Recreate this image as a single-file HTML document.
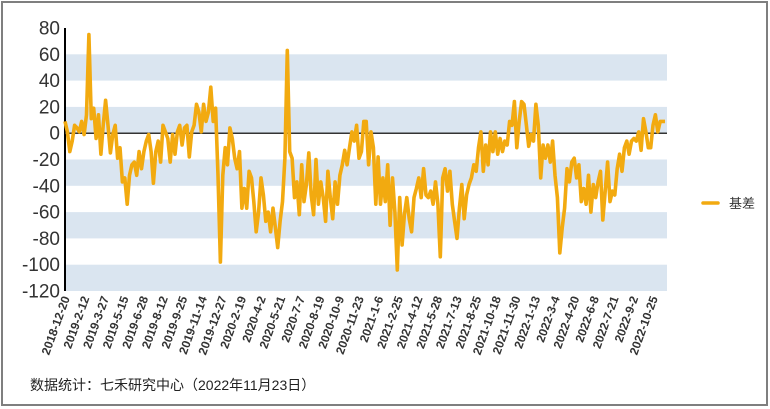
<!DOCTYPE html>
<html><head><meta charset="utf-8"><style>
html,body{margin:0;padding:0;background:#fff;}
svg{display:block;font-family:"Liberation Sans","Noto Sans CJK SC",sans-serif;}
</style></head><body>
<svg id="chart" width="770" height="409" viewBox="0 0 770 409">
<rect x="2" y="2" width="765" height="403" fill="#fff" stroke="#7f7f7f" stroke-width="2"/>
<g id="bands"></g>
<g id="yticks"></g>
<g id="xticks"></g>
<g id="series"></g>
<g>
<line x1="703" y1="203" x2="718" y2="203" stroke="#F2AA10" stroke-width="3.5" stroke-linecap="round"/>
<text x="729" y="208" font-size="13" fill="#333">基差</text>
</g>
<text x="30" y="390" font-size="14" fill="#222">数据统计：七禾研究中心（2022年11月23日）</text>
</svg>
<script>
const yTicks=[80,60,40,20,0,-20,-40,-60,-80,-100,-120];
const bandRanges=[[40,60],[0,20],[-40,-20],[-80,-60],[-120,-100]];
const dateLabels=["2018-12-20","2019-2-12","2019-3-27","2019-5-15","2019-6-28","2019-8-12","2019-9-25","2019-11-14","2019-12-27","2020-2-19","2020-4-2","2020-5-21","2020-7-7","2020-8-19","2020-10-9","2020-11-23","2021-1-6","2021-2-25","2021-4-12","2021-5-28","2021-7-13","2021-8-25","2021-10-18","2021-11-30","2022-1-13","2022-3-4","2022-4-20","2022-6-8","2022-7-21","2022-9-2","2022-10-25"];
const basisValues=[9,1,-14,-6,6,4,1,9,-1,14,75,11,19,-4,14,-16,6,25,6,-15,-1,6,-19,-11,-37,-34,-54,-32,-24,-22,-32,-14,-27,-14,-6,-1,-14,-38,-14,-6,-22,6,1,-4,-22,-1,-16,1,6,-9,4,6,-18,1,6,22,16,
1,22,9,16,35,9,19,-32,-98,-32,-11,-24,4,-4,-19,-27,-14,-57,-42,-57,-29,-34,-52,-75,-60,-34,-47,-67,-60,-75,-57,-72,-87,-67,-52,-19,63,-14,-19,-49,-37,-62,-24,-52,-39,-15,-47,-62,-20,-54,-37,-49,-67,-29,-49,-65,-37,-54,-32,-24,-13,-24,-11,1,-6,6,-19,-14,9,
9,-24,1,-11,-54,-18,-54,-34,-52,-24,-70,-34,-60,-104,-49,-85,-62,-49,-65,-75,-49,-42,-34,-49,-27,-47,-49,-44,-54,-37,-54,-94,-34,-27,-44,-29,-54,-67,-80,-57,-39,-65,-47,-39,-34,-24,-29,-11,1,-29,-9,-24,1,-14,1,-16,-4,-14,-6,-9,9,6,24,
-11,9,24,22,6,-10,-1,-6,22,6,-34,-9,-19,-9,-22,-6,-32,-49,-91,-72,-57,-27,-37,-22,-19,-34,-24,-52,-42,-54,-32,-60,-39,-49,-37,-29,-66,-44,-22,-52,-44,-47,-27,-16,-29,-11,-6,-16,-6,-4,-6,1,-13,11,1,-11,-11,6,14,1,9,9,9];
const NS="http://www.w3.org/2000/svg";
const X0=65,X1=665,PR=667,YT=28,YB=291,VMAX=80,VMIN=-120;
function yScale(v){return YB-(v-VMIN)/(VMAX-VMIN)*(YB-YT);}
function xScale(i,n){return X0+i*(X1-X0)/(n-1);}
function mk(tag,attrs,parent){const e=document.createElementNS(NS,tag);for(const k in attrs)e.setAttribute(k,attrs[k]);parent.appendChild(e);return e;}
const bands=document.getElementById('bands');
bandRanges.forEach(b=>{
 const r=mk('rect',{x:X0,y:yScale(b[1]),width:PR-X0,height:yScale(b[0])-yScale(b[1]),fill:'#DAE5F0'},bands);
 
 
});
const yg=document.getElementById('yticks');
yTicks.forEach(v=>{
 const t=mk('text',{x:60,y:yScale(v)+6.5,'text-anchor':'end','font-size':'19',fill:'#333'},yg);
 t.textContent=v;
 
 
});
const ax=mk('line',{x1:X0,y1:YT,x2:X0,y2:YB,stroke:'#000','stroke-width':2},yg);


const zl=mk('line',{x1:X0,y1:yScale(0),x2:PR,y2:yScale(0),stroke:'#333','stroke-width':1.5},yg);


const xg=document.getElementById('xticks');
const step=19.6;
dateLabels.forEach((d,i)=>{
 const x=X0+5+i*step,y=298;
 const t=mk('text',{x:x,y:y,'text-anchor':'end','font-size':'12','font-weight':'bold',fill:'#333',transform:'rotate(-70 '+x+' '+y+')'},xg);
 t.textContent=d;
 
 
});
const sg=document.getElementById('series');
const pts=basisValues.map((v,i)=>xScale(i,basisValues.length).toFixed(1)+','+yScale(v).toFixed(1)).join(' ');
const pl=mk('polyline',{points:pts,fill:'none',stroke:'#F2AA10','stroke-width':3.6,'stroke-linejoin':'round'},sg);


</script>
</body></html>
